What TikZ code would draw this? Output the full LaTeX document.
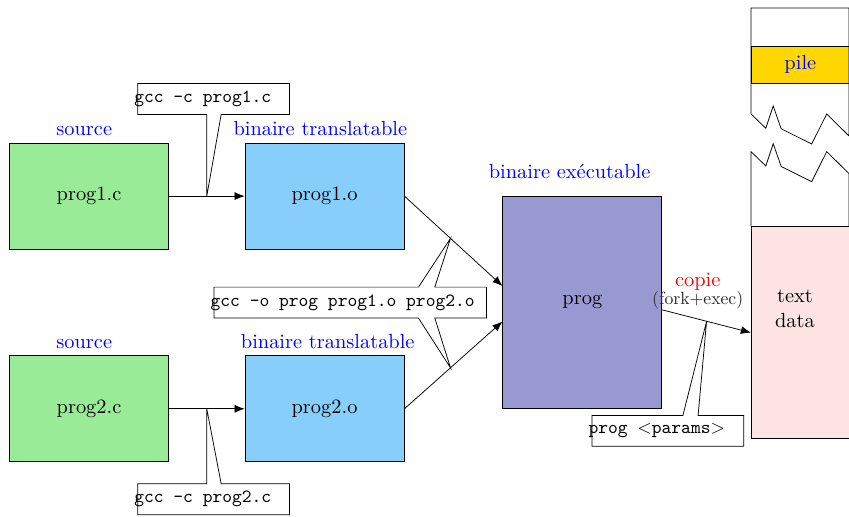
\documentclass[tikz,border=0pt,11pt]{standalone}
\usepackage{tikz}
\usetikzlibrary{
  arrows.meta,
  positioning,
  calc,
}
\tikzset{
  >={Latex[width=1.5mm,length=1.9mm]},
}
\definecolor{vertsrc}{RGB}{154,235,151}
\definecolor{bleuobj}{RGB}{135,206,250}
\definecolor{violetexe}{RGB}{153,153,209}
\definecolor{jaunepile}{RGB}{255,215,0}
\definecolor{rosecode}{RGB}{255,228,228}

\begin{document}
\begin{tikzpicture}[
      every node/.style={
        align=center,
      },
      box/.style={draw,
        minimum width=3cm,
        minimum height=2cm,
      },
      src/.style={box, fill=vertsrc},
      obj/.style={box, fill=bleuobj},
      exe/.style={box, fill=violetexe, minimum height=4cm},
      lbl/.style={text=blue},
      segment/.style={draw,
        anchor=north west,
        minimum width=1.85cm,
        inner sep=0pt,
      },
      cmd/.style={
        font=\small\ttfamily,
        execute at begin node={\spaceskip=0.525em\relax}, % espaces fixes
        align=left,
        inner xsep=-2pt,
        inner ysep=0pt,
        minimum height=0.57cm,
      },
      ]
      \useasboundingbox (0,0) rectangle (16.02,-9.74);

      % fichiers et compilation
      \node[src] (p1c) at (1.68,-3.70) {prog1.c};
      \node[obj, right=1.43cm of p1c] (p1o) {prog1.o};
      \node[src, below=2cm of p1c] (p2c) {prog2.c};
      \node[obj, right=1.43cm of p2c] (p2o) {prog2.o};
      \coordinate (milieu) at ($(p1o.east)!0.5!(p2o.east)$);
      \node[exe, right=1.85cm of milieu] (prog) {prog};

      \node[lbl, above=0pt of p1c, xshift=-0.09cm] (lsrc1) {source};
      \node[lbl, above=0pt of p2c, xshift=-0.09cm] (lsrc2) {source};
      \node[lbl, above=0pt of p1o, xshift=-0.08cm] (lobj1) {binaire translatable};
      \node[lbl, above=0pt of p2o, xshift=0.06cm] (lobj2) {binaire translatable};
      \node[lbl, above=0.19cm of prog, xshift=-0.24cm] (lexe) {binaire exécutable};

      % memoire du processus
      \node[segment, fill=jaunepile, minimum height=0.71cm, text=blue] (pile) at (14.17,-0.862) {pile};
      \node[segment, fill=rosecode, minimum height=4cm] (code) at (14.17,-4.27) {};
      \node (codetxt) at (15.0,-5.83) {text\\data};
      \draw (14.17,-0.151) -- (14.17,-2.15) -- (14.45,-2.42) -- (14.59,-2.0)
        -- (14.74,-2.43) -- (15.315,-2.717) -- (15.60,-2.15) -- (16.02,-2.566)
        -- (16.02,-0.151) -- cycle;
      \draw (14.17,-4.27) -- (14.17,-2.861) -- (14.45,-3.131) -- (14.59,-2.711)
        -- (14.74,-3.141) -- (15.315,-3.428) -- (15.60,-2.861) -- (16.02,-3.277)
        -- (16.02,-4.27);

      \coordinate (in1) at ([yshift=0.31cm]prog.west);
      \coordinate (in2) at ([yshift=-0.36cm]prog.west);
      \coordinate (out) at ([yshift=-0.14cm]prog.east);

      \path[->]
      (p1c) edge (p1o)
      (p2c) edge (p2o)
      (p1o.east) edge (in1)
      (p2o.east) edge (in2)
      (out) edge (code.west)
      ;

      \node[above=0.19cm, inner sep=0pt, text=black!85,
        font=\fontsize{9.5}{11}\selectfont] (fork)
        at ($(out)!0.4!(code.west)$) {(fork+exec)};
      \node[red, above=0pt of fork, inner sep=0pt] (copie) {copie};

      % commandes
      \coordinate (m1) at ($(p1c.east)!0.5!(p1o.west)$);
      \coordinate (m2) at ($(p2c.east)!0.5!(p2o.west)$);
      \coordinate (m3) at ($(p1o.east)!0.47!(in1)$);
      \coordinate (m4) at ($(p2o.east)!0.47!(in2)$);
      \coordinate (m5) at ($(out)!0.5!(code.west)$);

      \node[cmd, text width=2.99cm] (c1) at (4.03,-1.868) {gcc -c prog1.c};
      \node[cmd, text width=2.99cm] (c2) at (4.03,-9.42) {gcc -c prog2.c};
      \node[cmd, text width=5.27cm] (cl) at (6.61,-5.71) {gcc -o prog prog1.o prog2.o};
      \node[cmd, text width=2.99cm] (cp) at (12.60,-8.13) {prog $<$params$>$};

      \draw (c1.south west) -- (c1.north west) -- (c1.north east) -- (c1.south east)
        -- ($(c1.south west)!0.55!(c1.south east)$) -- (m1)
        -- ($(c1.south west)!0.455!(c1.south east)$) -- cycle;
      \draw (c2.north west) -- (c2.south west) -- (c2.south east) -- (c2.north east)
        -- ($(c2.north west)!0.55!(c2.north east)$) -- (m2)
        -- ($(c2.north west)!0.455!(c2.north east)$) -- cycle;
      \draw (cl.north west) -- ($(cl.north west)!0.75!(cl.north east)$) -- (m3)
        -- ($(cl.north west)!0.81!(cl.north east)$) -- (cl.north east) -- (cl.south east)
        -- ($(cl.south west)!0.81!(cl.south east)$) -- (m4)
        -- ($(cl.south west)!0.75!(cl.south east)$) -- (cl.south west) -- cycle;
      \draw (cp.north west) -- ($(cp.north west)!0.60!(cp.north east)$) -- (m5)
        -- ($(cp.north west)!0.70!(cp.north east)$) -- (cp.north east)
        -- (cp.south east) -- (cp.south west) -- cycle;
    \end{tikzpicture}
\end{document}
